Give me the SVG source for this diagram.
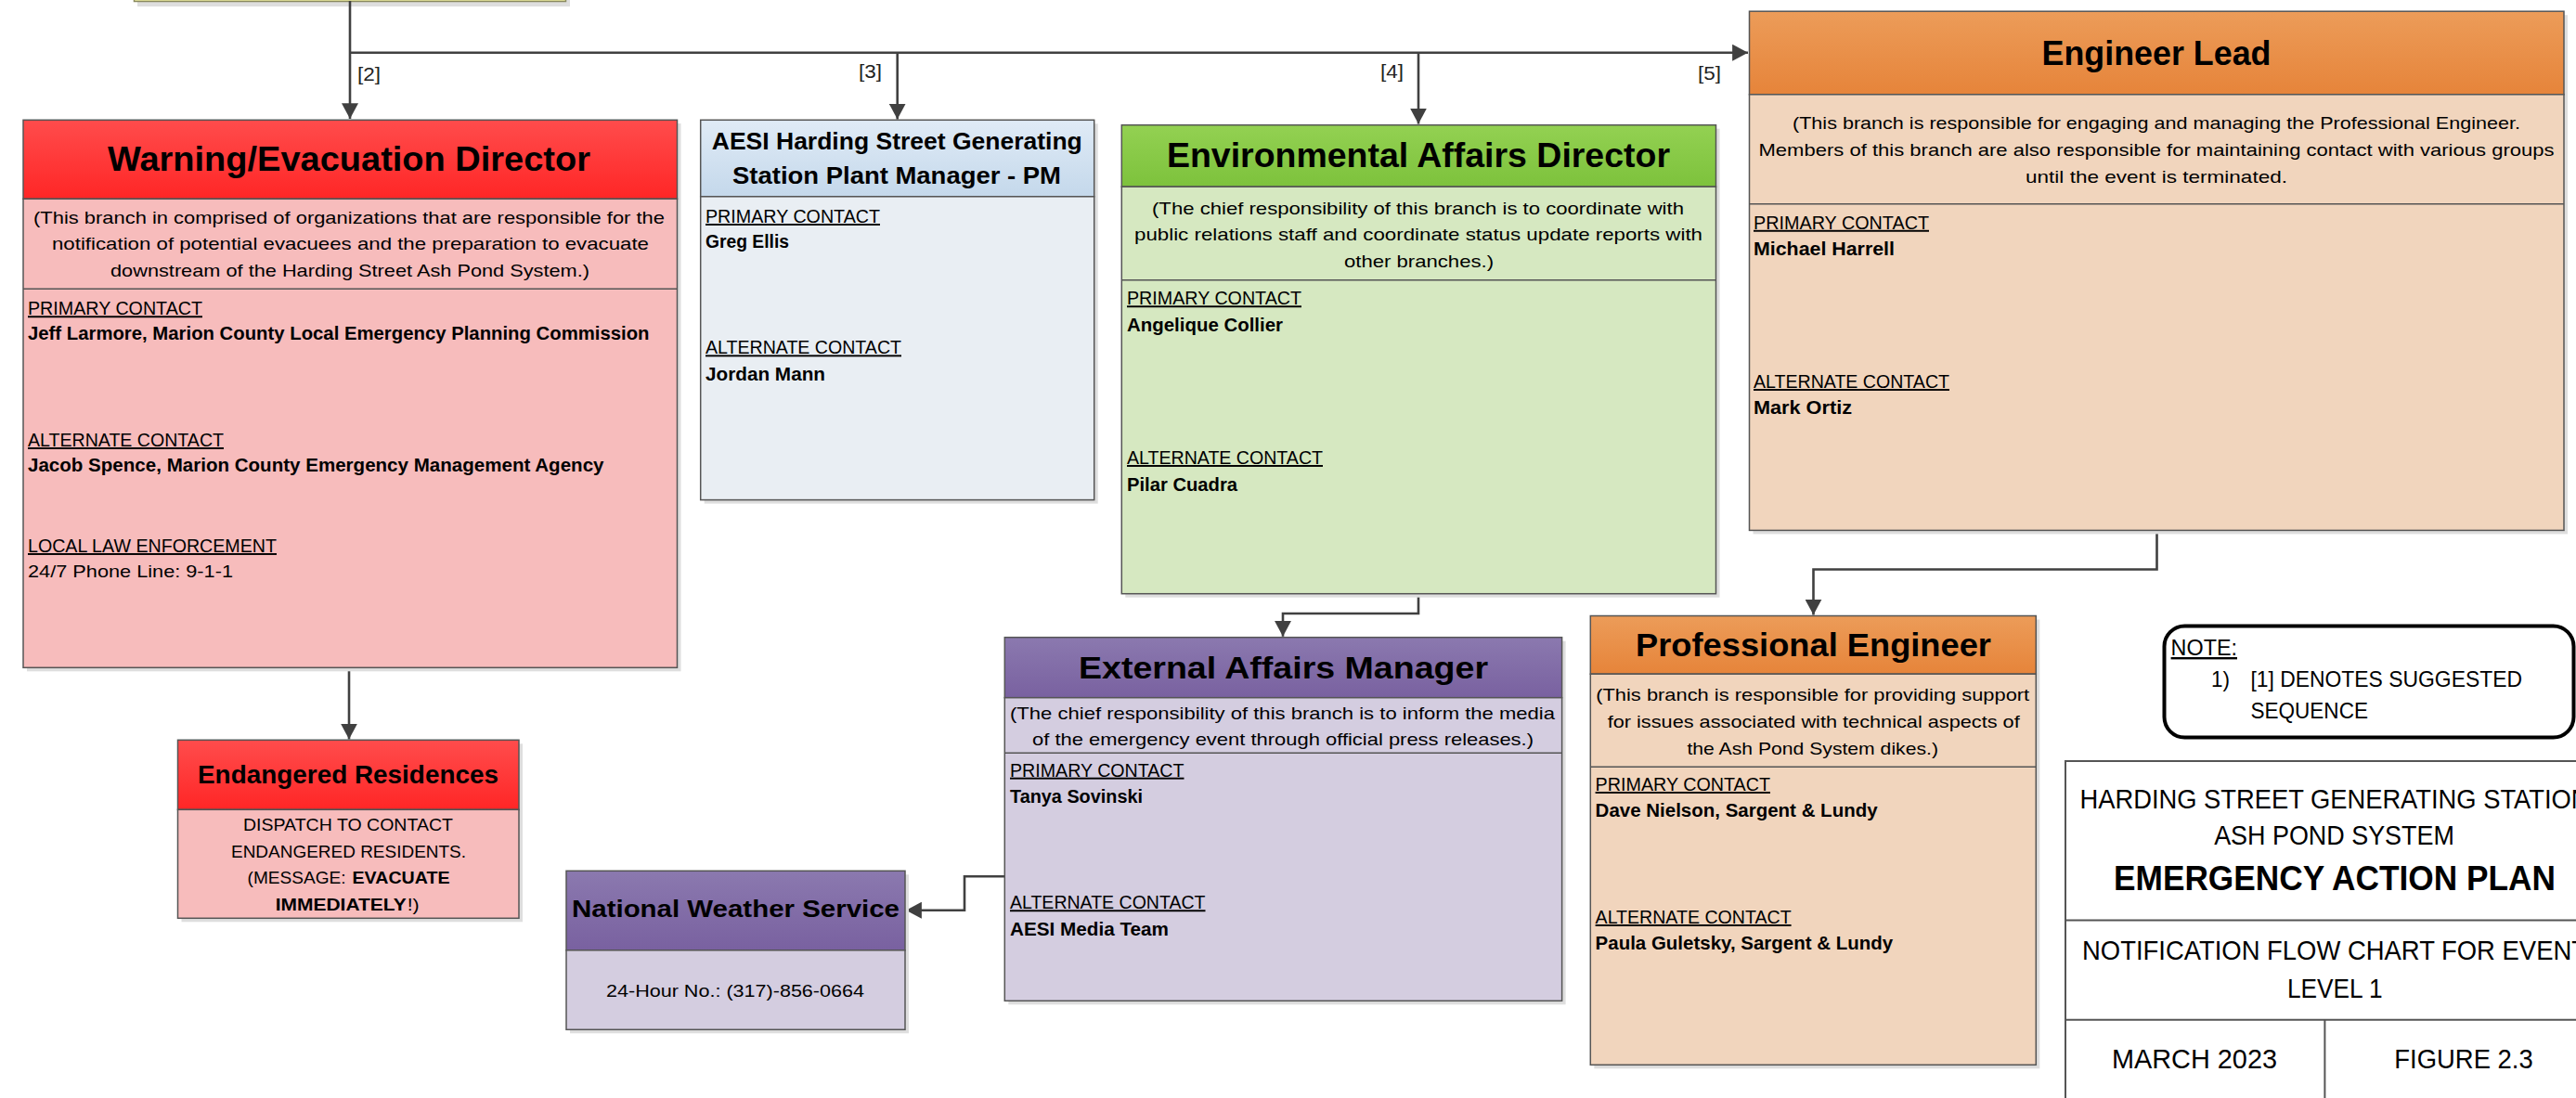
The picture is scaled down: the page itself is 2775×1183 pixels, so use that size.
<svg xmlns="http://www.w3.org/2000/svg" width="2775" height="1183" viewBox="0 0 2775 1183">
<style>
text{font-family:"Liberation Sans",Arial,sans-serif;fill:#000}
.t{font-weight:bold}
.d{font-size:19px}
.c{font-size:19.4px;text-decoration:underline}
.n{font-size:19.4px;font-weight:bold}
.m{text-anchor:middle}
.lbl{font-size:21px;fill:#222}
.box{stroke:#555;stroke-width:1.5}
.sh{fill:#dedede}
.sep{stroke:#555;stroke-width:1.5}
.con{fill:none;stroke:#404040;stroke-width:2.6}
</style>
<defs>
<linearGradient id="gRed" x1="0" y1="0" x2="0" y2="1"><stop offset="0" stop-color="#ff4c4c"/><stop offset="1" stop-color="#ff2626"/></linearGradient>
<linearGradient id="gBlue" x1="0" y1="0" x2="0" y2="1"><stop offset="0" stop-color="#e0ebf6"/><stop offset="1" stop-color="#c4d8eb"/></linearGradient>
<linearGradient id="gGreen" x1="0" y1="0" x2="0" y2="1"><stop offset="0" stop-color="#93d152"/><stop offset="1" stop-color="#7dc23c"/></linearGradient>
<linearGradient id="gOrange" x1="0" y1="0" x2="0" y2="1"><stop offset="0" stop-color="#ec9c59"/><stop offset="1" stop-color="#e6843a"/></linearGradient>
<linearGradient id="gPurple" x1="0" y1="0" x2="0" y2="1"><stop offset="0" stop-color="#8b79af"/><stop offset="1" stop-color="#7961a0"/></linearGradient>
<marker id="arr" markerUnits="userSpaceOnUse" markerWidth="18" markerHeight="18" viewBox="0 0 16 16" refX="15" refY="8" orient="auto">
<path d="M0,0 L15,8 L0,16 Z" fill="#404040"/>
</marker>
</defs>
<rect width="2775" height="1183" fill="#fff"/>

<g id="top-box">
<rect x="148" y="-40" width="466" height="47" class="sh"/>
<rect x="144.5" y="-44" width="465" height="45.5" fill="#f1f0a2" stroke="#8a8a60" stroke-width="1.5"/>
</g>

<g id="connectors">
<path class="con" d="M377,1 V128" marker-end="url(#arr)"/>
<path class="con" d="M377,56.7 H1883" marker-end="url(#arr)"/>
<path class="con" d="M966.7,56.7 V128.5" marker-end="url(#arr)"/>
<path class="con" d="M1528,56.7 V133.5" marker-end="url(#arr)"/>
<path class="con" d="M376,719.3 V796.5" marker-end="url(#arr)"/>
<path class="con" d="M1528,639.7 V661 H1382 V685.8" marker-end="url(#arr)"/>
<path class="con" d="M1082.3,944.3 H1039 V980.7 H976" marker-end="url(#arr)"/>
<path class="con" d="M2323.5,571.4 V613.5 H1953.5 V662.6" marker-end="url(#arr)"/>
<text class="lbl" x="385" y="87" textLength="25" lengthAdjust="spacingAndGlyphs">[2]</text>
<text class="lbl" x="925" y="84" textLength="25" lengthAdjust="spacingAndGlyphs">[3]</text>
<text class="lbl" x="1487" y="84" textLength="25" lengthAdjust="spacingAndGlyphs">[4]</text>
<text class="lbl" x="1829" y="86" textLength="25" lengthAdjust="spacingAndGlyphs">[5]</text>
</g>

<g id="warning-director">
<rect x="29" y="133" width="704.5" height="590.3" class="sh"/>
<rect x="25" y="129.3" width="704.5" height="85" fill="url(#gRed)" class="box"/>
<rect x="25" y="214.3" width="704.5" height="505" fill="#f7bcbc" class="box"/>
<line x1="25" y1="311.3" x2="729.5" y2="311.3" class="sep"/>
<text class="t m" x="376" y="184" font-size="36" textLength="520" lengthAdjust="spacingAndGlyphs">Warning/Evacuation Director</text>
<text class="d m" x="376" y="240.7" textLength="680" lengthAdjust="spacingAndGlyphs">(This branch in comprised of organizations that are responsible for the</text>
<text class="d m" x="377.5" y="269.3" textLength="643" lengthAdjust="spacingAndGlyphs">notification of potential evacuees and the preparation to evacuate</text>
<text class="d m" x="377" y="297.7" textLength="516" lengthAdjust="spacingAndGlyphs">downstream of the Harding Street Ash Pond System.)</text>
<text class="c" x="30" y="339.3" textLength="188" lengthAdjust="spacingAndGlyphs">PRIMARY CONTACT</text>
<text class="n" x="30" y="366" textLength="669.5" lengthAdjust="spacingAndGlyphs">Jeff Larmore, Marion County Local Emergency Planning Commission</text>
<text class="c" x="30" y="481" textLength="211" lengthAdjust="spacingAndGlyphs">ALTERNATE CONTACT</text>
<text class="n" x="30" y="508.3" textLength="620.5" lengthAdjust="spacingAndGlyphs">Jacob Spence, Marion County Emergency Management Agency</text>
<text class="c" x="30" y="595" textLength="268" lengthAdjust="spacingAndGlyphs">LOCAL LAW ENFORCEMENT</text>
<text class="d" x="30" y="622.3" font-size="19.4" textLength="221" lengthAdjust="spacingAndGlyphs">24/7 Phone Line: 9-1-1</text>
</g>

<g id="aesi-plant-manager">
<rect x="758.7" y="133.3" width="424" height="409.3" class="sh"/>
<rect x="754.7" y="129.3" width="424" height="82.5" fill="url(#gBlue)" class="box"/>
<rect x="754.7" y="211.8" width="424" height="326.8" fill="#e9eef3" class="box"/>
<text class="t m" x="966.3" y="161.4" font-size="26" textLength="399" lengthAdjust="spacingAndGlyphs">AESI Harding Street Generating</text>
<text class="t m" x="966" y="198.2" font-size="26" textLength="354" lengthAdjust="spacingAndGlyphs">Station Plant Manager - PM</text>
<text class="c" x="760" y="240" textLength="188" lengthAdjust="spacingAndGlyphs">PRIMARY CONTACT</text>
<text class="n" x="760" y="266.8" textLength="90" lengthAdjust="spacingAndGlyphs">Greg Ellis</text>
<text class="c" x="760" y="381.4" textLength="211" lengthAdjust="spacingAndGlyphs">ALTERNATE CONTACT</text>
<text class="n" x="760" y="409.6" textLength="129" lengthAdjust="spacingAndGlyphs">Jordan Mann</text>
</g>

<g id="environmental-director">
<rect x="1212.3" y="138.7" width="640.2" height="505" class="sh"/>
<rect x="1208.3" y="134.7" width="640.2" height="66.5" fill="url(#gGreen)" class="box"/>
<rect x="1208.3" y="201.2" width="640.2" height="438.5" fill="#d6e8c1" class="box"/>
<line x1="1208.3" y1="301.8" x2="1848.5" y2="301.8" class="sep"/>
<text class="t m" x="1528" y="180" font-size="36" textLength="542" lengthAdjust="spacingAndGlyphs">Environmental Affairs Director</text>
<text class="d m" x="1527.5" y="230.6" textLength="573" lengthAdjust="spacingAndGlyphs">(The chief responsibility of this branch is to coordinate with</text>
<text class="d m" x="1528" y="258.8" textLength="612" lengthAdjust="spacingAndGlyphs">public relations staff and coordinate status update reports with</text>
<text class="d m" x="1528.5" y="287.5" textLength="161" lengthAdjust="spacingAndGlyphs">other branches.)</text>
<text class="c" x="1214" y="328.3" textLength="188" lengthAdjust="spacingAndGlyphs">PRIMARY CONTACT</text>
<text class="n" x="1214" y="356.9" textLength="168" lengthAdjust="spacingAndGlyphs">Angelique Collier</text>
<text class="c" x="1214" y="500" textLength="211" lengthAdjust="spacingAndGlyphs">ALTERNATE CONTACT</text>
<text class="n" x="1214" y="529" textLength="119" lengthAdjust="spacingAndGlyphs">Pilar Cuadra</text>
</g>

<g id="engineer-lead">
<rect x="1888.5" y="16.2" width="877.5" height="559.2" class="sh"/>
<rect x="1884.5" y="12.2" width="877.5" height="89.6" fill="url(#gOrange)" class="box"/>
<rect x="1884.5" y="101.8" width="877.5" height="469.6" fill="#f1d5bd" class="box"/>
<line x1="1884.5" y1="219.7" x2="2762" y2="219.7" class="sep"/>
<text class="t m" x="2323" y="70" font-size="37" textLength="247" lengthAdjust="spacingAndGlyphs">Engineer Lead</text>
<text class="d m" x="2323" y="138.5" textLength="784" lengthAdjust="spacingAndGlyphs">(This branch is responsible for engaging and managing the Professional Engineer.</text>
<text class="d m" x="2323" y="167.6" textLength="857" lengthAdjust="spacingAndGlyphs">Members of this branch are also responsible for maintaining contact with various groups</text>
<text class="d m" x="2323" y="196.7" textLength="282" lengthAdjust="spacingAndGlyphs">until the event is terminated.</text>
<text class="c" x="1889" y="246.8" textLength="189" lengthAdjust="spacingAndGlyphs">PRIMARY CONTACT</text>
<text class="n" x="1889" y="274.8" textLength="152" lengthAdjust="spacingAndGlyphs">Michael Harrell</text>
<text class="c" x="1889" y="418" textLength="211" lengthAdjust="spacingAndGlyphs">ALTERNATE CONTACT</text>
<text class="n" x="1889" y="445.8" textLength="106" lengthAdjust="spacingAndGlyphs">Mark Ortiz</text>
</g>

<g id="endangered-residences">
<rect x="195.5" y="801.3" width="367.5" height="192" class="sh"/>
<rect x="191.5" y="797.3" width="367.5" height="75" fill="url(#gRed)" class="box"/>
<rect x="191.5" y="872.3" width="367.5" height="117" fill="#f7bcbc" class="box"/>
<text class="t m" x="375" y="844" font-size="28" textLength="324" lengthAdjust="spacingAndGlyphs">Endangered Residences</text>
<text class="d m" x="375" y="895" textLength="226" lengthAdjust="spacingAndGlyphs">DISPATCH TO CONTACT</text>
<text class="d m" x="375.5" y="924" textLength="253" lengthAdjust="spacingAndGlyphs">ENDANGERED RESIDENTS.</text>
<text class="d" x="266.6" y="952.3" textLength="106" lengthAdjust="spacingAndGlyphs">(MESSAGE:</text>
<text class="d t" x="379.5" y="952.3" textLength="105" lengthAdjust="spacingAndGlyphs">EVACUATE</text>
<text class="d t" x="296.7" y="981" textLength="141" lengthAdjust="spacingAndGlyphs">IMMEDIATELY</text>
<text class="d" x="438.7" y="981" textLength="13" lengthAdjust="spacingAndGlyphs">!)</text>
</g>

<g id="external-affairs">
<rect x="1086.3" y="690.7" width="600.3" height="391.6" class="sh"/>
<rect x="1082.3" y="686.7" width="600.3" height="65" fill="url(#gPurple)" class="box"/>
<rect x="1082.3" y="751.7" width="600.3" height="326.6" fill="#d4cde0" class="box"/>
<line x1="1082.3" y1="811.3" x2="1682.6" y2="811.3" class="sep"/>
<text class="t m" x="1382.5" y="730.7" font-size="33.5" textLength="441" lengthAdjust="spacingAndGlyphs">External Affairs Manager</text>
<text class="d m" x="1381.5" y="775" textLength="587" lengthAdjust="spacingAndGlyphs">(The chief responsibility of this branch is to inform the media</text>
<text class="d m" x="1382" y="802.7" textLength="540" lengthAdjust="spacingAndGlyphs">of the emergency event through official press releases.)</text>
<text class="c" x="1088" y="836.7" textLength="187.5" lengthAdjust="spacingAndGlyphs">PRIMARY CONTACT</text>
<text class="n" x="1088" y="865" textLength="143" lengthAdjust="spacingAndGlyphs">Tanya Sovinski</text>
<text class="c" x="1088" y="979.3" textLength="210.5" lengthAdjust="spacingAndGlyphs">ALTERNATE CONTACT</text>
<text class="n" x="1088" y="1007.7" textLength="171" lengthAdjust="spacingAndGlyphs">AESI Media Team</text>
</g>

<g id="national-weather-service">
<rect x="614" y="942.3" width="365" height="171" class="sh"/>
<rect x="610" y="938.3" width="365" height="85.5" fill="url(#gPurple)" class="box"/>
<rect x="610" y="1023.8" width="365" height="85.5" fill="#d4cde0" class="box"/>
<text class="t m" x="792.5" y="988.3" font-size="26" textLength="353" lengthAdjust="spacingAndGlyphs">National Weather Service</text>
<text class="d m" x="792" y="1074" textLength="278" lengthAdjust="spacingAndGlyphs">24-Hour No.: (317)-856-0664</text>
</g>

<g id="professional-engineer">
<rect x="1717.3" y="667.5" width="480" height="483.8" class="sh"/>
<rect x="1713.3" y="663.5" width="480" height="62.7" fill="url(#gOrange)" class="box"/>
<rect x="1713.3" y="726.2" width="480" height="421.1" fill="#f1d5bd" class="box"/>
<line x1="1713.3" y1="826.3" x2="2193.3" y2="826.3" class="sep"/>
<text class="t m" x="1953.5" y="706.5" font-size="35" textLength="383" lengthAdjust="spacingAndGlyphs">Professional Engineer</text>
<text class="d m" x="1952.7" y="755" textLength="467" lengthAdjust="spacingAndGlyphs">(This branch is responsible for providing support</text>
<text class="d m" x="1953.7" y="783.7" textLength="444" lengthAdjust="spacingAndGlyphs">for issues associated with technical aspects of</text>
<text class="d m" x="1952.7" y="813" textLength="270.5" lengthAdjust="spacingAndGlyphs">the Ash Pond System dikes.)</text>
<text class="c" x="1718.6" y="852" textLength="188.4" lengthAdjust="spacingAndGlyphs">PRIMARY CONTACT</text>
<text class="n" x="1718.6" y="879.6" textLength="304" lengthAdjust="spacingAndGlyphs">Dave Nielson, Sargent &amp; Lundy</text>
<text class="c" x="1718.6" y="995" textLength="211" lengthAdjust="spacingAndGlyphs">ALTERNATE CONTACT</text>
<text class="n" x="1718.6" y="1022.6" textLength="320.5" lengthAdjust="spacingAndGlyphs">Paula Guletsky, Sargent &amp; Lundy</text>
</g>

<g id="note">
<rect x="2331.5" y="674.5" width="441" height="120" rx="22" ry="22" fill="#fff" stroke="#000" stroke-width="4"/>
<text x="2338.6" y="706" font-size="24" text-decoration="underline" textLength="71.4" lengthAdjust="spacingAndGlyphs">NOTE:</text>
<text x="2382" y="740" font-size="24" textLength="20" lengthAdjust="spacingAndGlyphs">1)</text>
<text x="2424.4" y="740" font-size="24" textLength="292.6" lengthAdjust="spacingAndGlyphs">[1] DENOTES SUGGESTED</text>
<text x="2424.4" y="774" font-size="24" textLength="126.6" lengthAdjust="spacingAndGlyphs">SEQUENCE</text>
</g>

<g id="title-block">
<rect x="2225" y="820" width="600" height="400" fill="#fff" stroke="#555" stroke-width="2"/>
<line x1="2225" y1="991.6" x2="2825" y2="991.6" stroke="#555" stroke-width="2"/>
<line x1="2225" y1="1098.7" x2="2825" y2="1098.7" stroke="#555" stroke-width="2"/>
<line x1="2504.4" y1="1098.7" x2="2504.4" y2="1190" stroke="#555" stroke-width="2"/>
<text class="m" x="2515" y="871" font-size="30" textLength="549" lengthAdjust="spacingAndGlyphs">HARDING STREET GENERATING STATION</text>
<text class="m" x="2514.5" y="910" font-size="30" textLength="258.7" lengthAdjust="spacingAndGlyphs">ASH POND SYSTEM</text>
<text class="m t" x="2515" y="959.3" font-size="36" textLength="476" lengthAdjust="spacingAndGlyphs">EMERGENCY ACTION PLAN</text>
<text class="m" x="2515" y="1034" font-size="30" textLength="544" lengthAdjust="spacingAndGlyphs">NOTIFICATION FLOW CHART FOR EVENT</text>
<text class="m" x="2515.3" y="1075" font-size="30" textLength="102.7" lengthAdjust="spacingAndGlyphs">LEVEL 1</text>
<text class="m" x="2364" y="1151" font-size="30" textLength="178" lengthAdjust="spacingAndGlyphs">MARCH 2023</text>
<text class="m" x="2654" y="1151" font-size="30" textLength="149.3" lengthAdjust="spacingAndGlyphs">FIGURE 2.3</text>
</g>
</svg>
